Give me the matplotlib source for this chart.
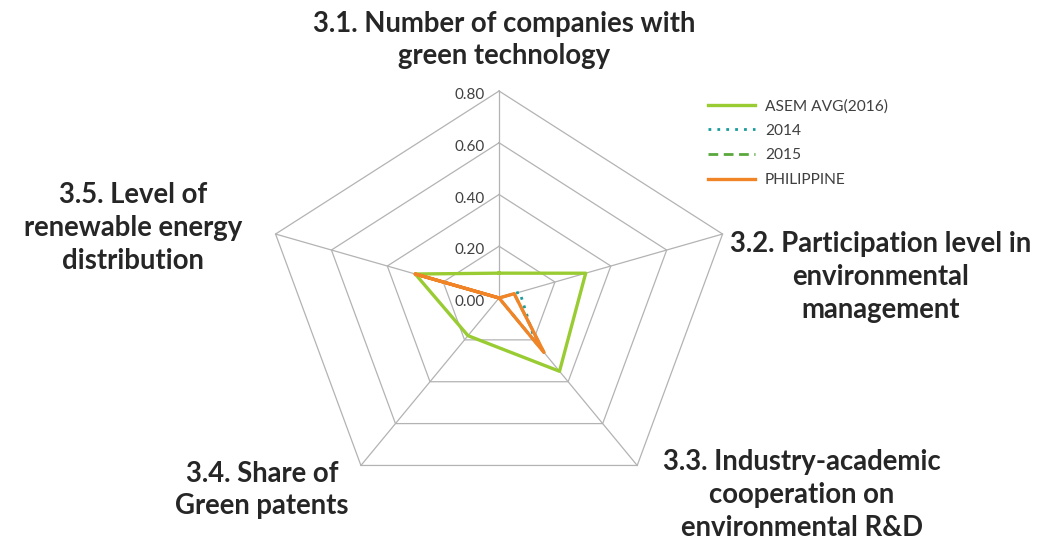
import numpy as np
import matplotlib.pyplot as plt
from matplotlib.lines import Line2D

# ── Data ───────────────────────────────────────────────────────────────────────
categories = [
    "3.1. Number of companies with\ngreen technology",
    "3.2. Participation level in\nenvironmental\nmanagement",
    "3.3. Industry-academic\ncooperation on\nenvironmental R&D",
    "3.4. Share of\nGreen patents",
    "3.5. Level of\nrenewable energy\ndistribution",
]
asem_avg_2016 = [0.096, 0.31, 0.35, 0.18, 0.30]
y2014 = [0.0, 0.074, 0.21, 0.0, 0.30]
y2015 = [0.0, 0.054, 0.26, 0.0, 0.30]
philippine = [0.0, 0.054, 0.26, 0.0, 0.30]
levels = [0.0, 0.2, 0.4, 0.6, 0.8]
level_labels = ["0.00", "0.20", "0.40", "0.60", "0.80"]

# ── Styling ────────────────────────────────────────────────────────────────────
GRID = "#b3b3b3"
TEXT = "#262626"
TICK = "#404040"
C_ASEM = "#99cc33"
C_2014 = "#1a9c9c"
C_2015 = "#5aa83c"
C_PHIL = "#f28428"

fig = plt.figure(figsize=(10.52, 5.43), dpi=100)
# radar is a little wider than tall, so let the polar axes stretch
ax = fig.add_axes([0.251, 0.07, 0.4468, 0.7624], projection="polar")
ax.set_aspect("auto")
ax.set_theta_offset(np.pi / 2)
ax.set_theta_direction(-1)
ax.set_ylim(0, 0.8)
ax.grid(False)
ax.spines["polar"].set_visible(False)
ax.set_xticks([])
ax.set_yticks([])
ax.patch.set_alpha(0)

n = len(categories)
angles = np.linspace(0, 2 * np.pi, n, endpoint=False)
closed = np.append(angles, angles[0])


def close(vals):
    return list(vals) + [vals[0]]


# pentagon gridlines and spokes
for lvl in levels[1:]:
    ax.plot(closed, [lvl] * (n + 1), color=GRID, lw=0.9, clip_on=False, zorder=1)
for a in angles:
    ax.plot([a, a], [0, levels[-1]], color=GRID, lw=0.9, clip_on=False, zorder=1)

# radial value labels along the first spoke
for lvl, lab in zip(levels, level_labels):
    ax.annotate(lab, xy=(0, lvl), xytext=(-10, -3), textcoords="offset points",
                ha="right", va="center", fontsize=11, color=TICK,
                family="Lato", annotation_clip=False)

ax.plot(closed, close(asem_avg_2016), color=C_ASEM, lw=2.4, zorder=3)
ax.plot(closed, close(y2014), color=C_2014, lw=2.0, ls=(0, (1, 2.2)), zorder=3)
ax.plot(closed, close(y2015), color=C_2015, lw=2.0, ls=(0, (3.5, 2)), zorder=3)
ax.plot(closed, close(philippine), color=C_PHIL, lw=2.4, zorder=4)

# category labels around the chart (figure pixels from top-left)
label_pos = [(504, 40), (881, 277), (802, 495), (262, 490), (133, 228)]
W, H = 1052, 543
for text, (px, py) in zip(categories, label_pos):
    fig.text(px / W, 1 - py / H, text, ha="center", va="center",
             fontsize=19.8, fontweight="bold", color=TEXT, family="Lato",
             linespacing=1.33, multialignment="center")

handles = [
    Line2D([], [], color=C_ASEM, lw=2.4),
    Line2D([], [], color=C_2014, lw=2.0, ls=(0, (1, 2.2))),
    Line2D([], [], color=C_2015, lw=2.0, ls=(0, (3.5, 2))),
    Line2D([], [], color=C_PHIL, lw=2.4),
]
fig.legend(handles, ["ASEM AVG(2016)", "2014", "2015", "PHILIPPINE"],
           loc="upper left", bbox_to_anchor=(708 / W, 1 - 99 / H),
           frameon=False, prop={"family": "Lato", "size": 11.2},
           handlelength=3.0, handletextpad=0.65, labelspacing=0.68,
           borderaxespad=0, borderpad=0, labelcolor=TICK)

fig.savefig("out.png", dpi=100)
